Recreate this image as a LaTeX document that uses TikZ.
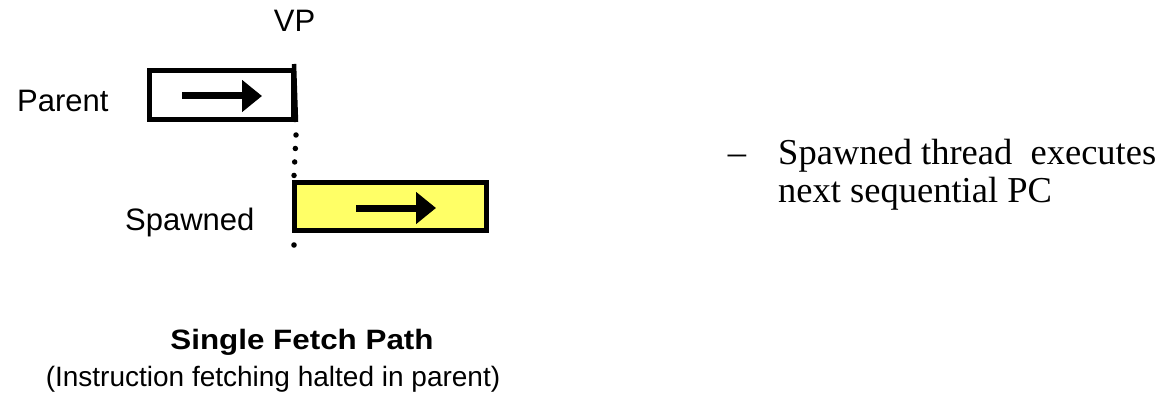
\documentclass[tikz,border=0pt]{standalone}
\usepackage{fontspec}
\setmainfont{Liberation Serif}
\newfontfamily\arialfont{Liberation Sans}
\usetikzlibrary{arrows.meta}
\definecolor{spawnyellow}{RGB}{255,255,102}
\tikzset{
  threadbox/.style={draw=black, line width=5pt, rectangle, inner sep=0pt},
  flowarrow/.style={line width=7pt, -{Triangle[length=20pt,width=31pt]}},
  sanslabel/.style={font=\arialfont\fontsize{31}{31}\selectfont, inner sep=0pt},
  bullettext/.style={inner sep=0pt, font=\fontsize{36.5}{36.5}\selectfont},
  vpline/.style={line width=4.5pt},
  vpdots/.style={line width=5.5pt, line cap=round, dash pattern=on 0pt off 13.5pt},
}
\begin{document}
\begin{tikzpicture}[x=1pt, y=-1pt]
  \useasboundingbox (0,0) rectangle (1169,398);

  % thread boxes
  \node[threadbox, minimum width=144pt, minimum height=49pt] (parent) at (221.5,95) {};
  \node[threadbox, fill=spawnyellow, minimum width=192pt, minimum height=48pt] (spawned) at (390.5,206.5) {};

  % fetch direction arrows inside the boxes
  \coordinate (pa0) at (182,96);
  \coordinate (pa1) at (262,96);
  \coordinate (sa0) at (356,208);
  \coordinate (sa1) at (436,208);
  \draw[flowarrow] (pa0) -- (pa1);
  \draw[flowarrow] (sa0) -- (sa1);

  % VP marker line: solid across the parent, dotted down to the spawned thread
  \coordinate (vptop) at (294,64);
  \coordinate (vpend) at (294,245);
  \draw[vpline] (vptop) -- (parent.south east);
  \draw[vpdots] (parent.south east) ++(0,13) -- (294,176);
  \fill (vpend) circle (2.8pt);

  % labels
  \node[sanslabel, anchor=base] (vp) at (294.5,32) {VP};
  \node[sanslabel, anchor=base west] (parentlbl) at (17,112) {Parent};
  \node[sanslabel, anchor=base west] (spawnedlbl) at (125,230) {Spawned};

  \node[inner sep=0pt, anchor=base, font=\arialfont\bfseries\fontsize{28}{28}\selectfont] (title) at (302,349) {\scalebox{1.12}[1]{Single Fetch Path}};
  \node[inner sep=0pt, anchor=base, font=\arialfont\fontsize{28}{28}\selectfont] (subtitle) at (273,386) {(Instruction fetching halted in parent)};

  % bullet text
  \node[bullettext, anchor=base] (dash) at (737,165) {--};
  \node[bullettext, anchor=base west] (line1) at (778,165) {Spawned thread\ \ executes};
  \node[bullettext, anchor=base west] (line2) at (778,203) {next sequential PC};
\end{tikzpicture}
\end{document}
